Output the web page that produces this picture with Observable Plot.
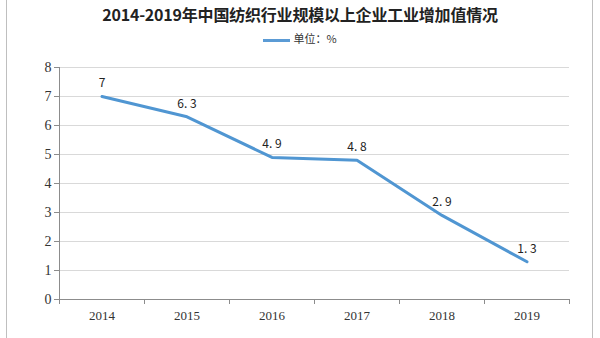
<!DOCTYPE html>
<html><head><meta charset="utf-8">
<script src="https://cdn.jsdelivr.net/npm/d3@7"></script>
<script src="https://cdn.jsdelivr.net/npm/@observablehq/plot@0.6"></script>
<style>
body{margin:0;background:#fff;}
#wrap{position:relative;width:600px;height:338px;overflow:hidden;background:#fff;}
#frame{position:absolute;left:6px;top:-2px;width:585px;height:360px;border-left:1px solid #bfbfbf;border-right:1px solid #bfbfbf;}
#title{position:absolute;left:0;top:2px;width:600px;text-align:center;font:bold 16px "Noto Sans CJK SC",sans-serif;color:#222;letter-spacing:-0.2px;}
#legend{position:absolute;left:0;top:30px;width:600px;text-align:center;font:11px "Noto Sans CJK SC",sans-serif;color:#333;}
#legend span.sw{display:inline-block;width:27px;height:3px;background:#5b9bd5;vertical-align:middle;margin-right:3px;}
#chart{position:absolute;left:0;top:50px;}
</style></head>
<body>
<div id="wrap">
<div id="frame"></div>
<div id="title">2014-2019年中国纺织行业规模以上企业工业增加值情况</div>
<div id="legend"><span class="sw"></span>单位：%</div>
<div id="chart"></div>
</div>
<script>
const years = [2014, 2015, 2016, 2017, 2018, 2019];
const values = [7, 6.3, 4.9, 4.8, 2.9, 1.3];
const yTicks = [0, 1, 2, 3, 4, 5, 6, 7, 8];

const data = years.map((y, i) => ({year: y, value: values[i]}));
const bounds = [years[0] - 0.5, ...years.map(y => y + 0.5)];

const plot = Plot.plot({
  width: 600,
  height: 288,
  marginTop: 17,
  marginBottom: 39,
  marginLeft: 59,
  marginRight: 31,
  style: {fontFamily: "'Liberation Serif', serif", fontSize: "12px", color: "#333", background: "transparent"},
  x: {type: "linear", domain: [bounds[0], bounds[bounds.length - 1]], axis: null, label: null},
  y: {domain: [0, 8], axis: null, label: null},
  marks: [
    Plot.gridY(yTicks.slice(1), {stroke: "#d9d9d9", strokeOpacity: 1}),
    Plot.ruleY([0], {stroke: "#8c8c8c"}),
    Plot.ruleX([bounds[0]], {stroke: "#8c8c8c"}),
    Plot.axisY({ticks: yTicks, label: null, tickSize: 5, tickPadding: 3, stroke: "#8c8c8c", fill: "#333", fontSize: 14, tickFormat: d => d}),
    Plot.axisX({ticks: bounds, label: null, tickSize: 5, tickFormat: () => "", stroke: "#8c8c8c"}),
    Plot.axisX({ticks: years, label: null, tickSize: 0, tickPadding: 11, tickFormat: d => String(d), fill: "#333", fontSize: 13}),
    Plot.line(data, {x: "year", y: "value", stroke: "#5096d2", strokeWidth: 3}),
    Plot.text(data, {x: "year", y: "value", text: d => String(d.value).replace(".", ". "), dy: -13, fill: "#222", fontSize: 12, fontFamily: "'Noto Sans CJK SC', sans-serif"})
  ]
});
document.getElementById("chart").appendChild(plot);
</script>
</body></html>
